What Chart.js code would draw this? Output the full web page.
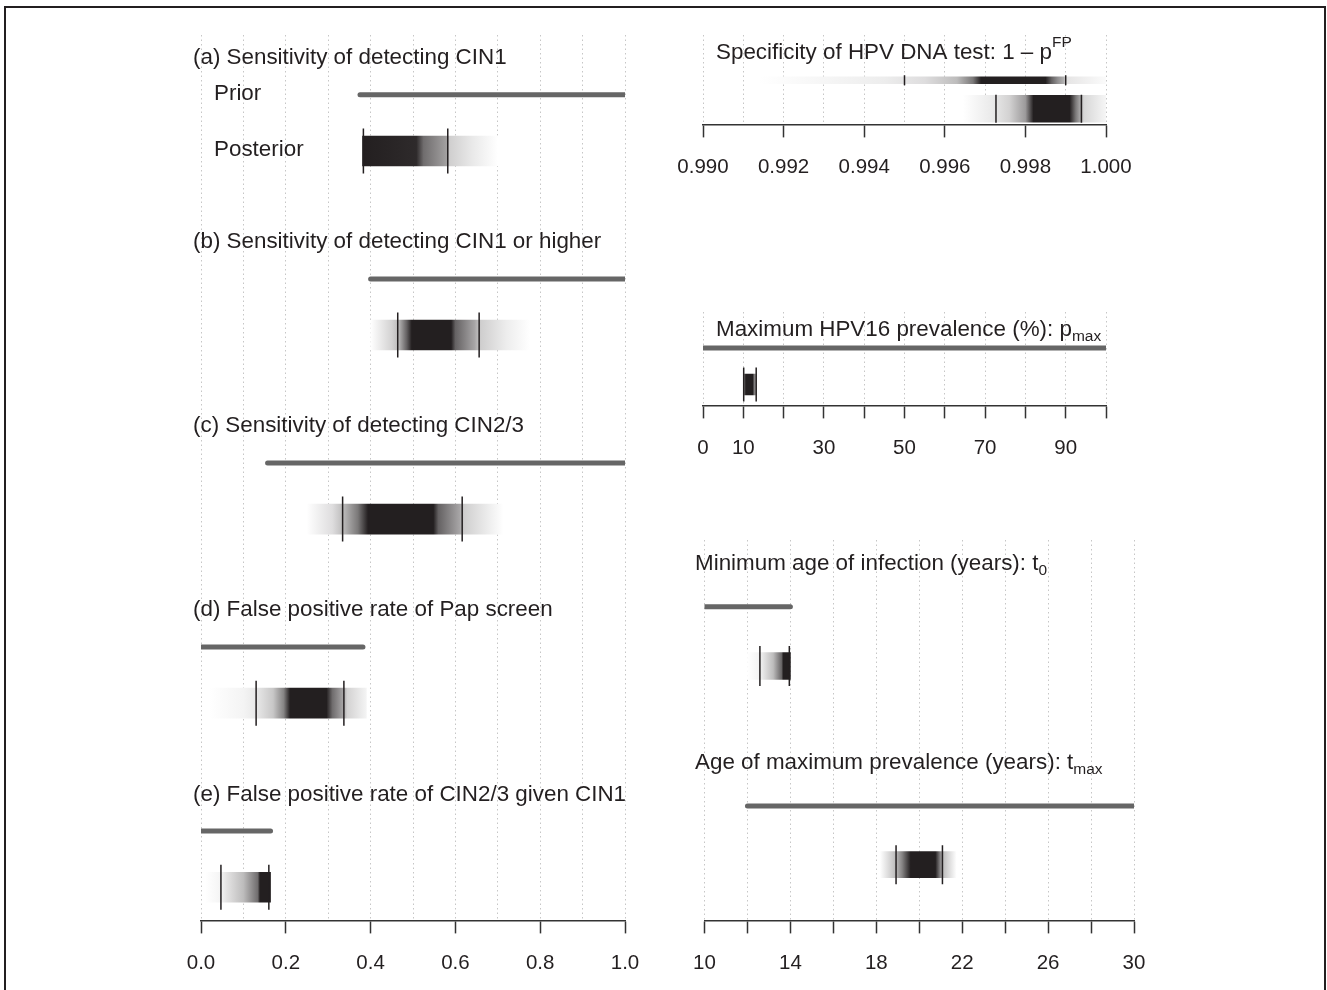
<!DOCTYPE html>
<html>
<head>
<meta charset="utf-8">
<title>Prior and posterior distributions</title>
<script src="https://cdn.jsdelivr.net/npm/chart.js@4.4.1/dist/chart.umd.min.js"></script>
<style>
  html, body { margin: 0; padding: 0; background: #fff; }
  #page { position: relative; width: 1327px; height: 990px; overflow: hidden; }
  #frame { position: absolute; left: 4px; top: 6px; width: 1318px; height: 1000px;
           border: 2.5px solid #231f20; border-bottom: none; }
  canvas { position: absolute; }
</style>
</head>
<body>
<div id="page">
  <div id="frame"></div>
  <canvas id="left" width="670" height="1010" style="left:0;top:0"></canvas>
  <canvas id="spec" width="520" height="220" style="left:640px;top:0"></canvas>
  <canvas id="pmax" width="520" height="300" style="left:640px;top:200px"></canvas>
  <canvas id="age" width="560" height="540" style="left:640px;top:470px"></canvas>
</div>
<script>
const FONT = '"Liberation Sans", Arial, sans-serif';
const INK = [35, 31, 32];

// ---- left column: parameters on 0..1 ----
const leftTitles = [
  '(a) Sensitivity of detecting CIN1',
  '(b) Sensitivity of detecting CIN1 or higher',
  '(c) Sensitivity of detecting CIN2/3',
  '(d) False positive rate of Pap screen',
  '(e) False positive rate of CIN2/3 given CIN1'
];
const leftPriorLow = [0.375, 0.40, 0.157, 0.0, 0.0];
const leftPriorHigh = [1.0, 1.0, 1.0, 0.382, 0.164];
const leftCredLow = [0.383, 0.464, 0.334, 0.130, 0.047];
const leftCredHigh = [0.582, 0.656, 0.616, 0.337, 0.160];
// posterior density shading: [value, darkness 0..1]
const leftShades = [
  [[0.381, 1], [0.508, 0.95], [0.525, 0.65], [0.58, 0.42], [0.585, 0.22], [0.64, 0.1], [0.70, 0]],
  [[0.40, 0], [0.45, 0.2], [0.465, 0.3], [0.485, 0.7], [0.497, 1], [0.59, 1], [0.60, 0.7], [0.645, 0.4], [0.66, 0.22], [0.72, 0.08], [0.776, 0]],
  [[0.249, 0], [0.31, 0.15], [0.335, 0.3], [0.37, 0.6], [0.394, 1], [0.548, 1], [0.56, 0.7], [0.61, 0.4], [0.62, 0.22], [0.67, 0.1], [0.713, 0]],
  [[0.02, 0], [0.10, 0.05], [0.13, 0.1], [0.17, 0.25], [0.195, 0.55], [0.21, 1], [0.296, 1], [0.31, 0.65], [0.335, 0.4], [0.345, 0.2], [0.39, 0.05]],
  [[0.01, 0], [0.047, 0.05], [0.06, 0.12], [0.10, 0.3], [0.134, 0.65], [0.139, 1], [0.164, 1]]
];
const leftGrid = [0, 0.1, 0.2, 0.3, 0.4, 0.5, 0.6, 0.7, 0.8, 0.9, 1.0];
const leftTicks = [0, 0.2, 0.4, 0.6, 0.8, 1.0];
const leftTickLabels = ['0.0', '0.2', '0.4', '0.6', '0.8', '1.0'];

// ---- specificity of HPV DNA test ----
const specTitle = ['Specificity of HPV DNA test: 1 \u2013 p', 'FP'];
const specPriorShade = [[0.9914, 0], [0.9945, 0.08], [0.9955, 0.15], [0.9963, 0.3], [0.9967, 0.6], [0.9969, 1], [0.9985, 1], [0.99865, 0.7], [0.9988, 0.5], [0.99895, 0.35], [0.9990, 0.12], [1.0, 0.02]];
const specPriorCred = [0.995, 0.999];
const specPostShade = [[0.99645, 0], [0.9972, 0.1], [0.9976, 0.2], [0.998, 0.45], [0.9982, 1], [0.9991, 1], [0.99925, 0.6], [0.99938, 0.35], [0.99945, 0.18], [1.0, 0.04]];
const specPostCred = [0.99727, 0.99939];
const specGrid = [0.990, 0.991, 0.992, 0.993, 0.994, 0.995, 0.996, 0.997, 0.998, 0.999, 1.000];
const specTicks = [0.990, 0.992, 0.994, 0.996, 0.998, 1.000];
const specTickLabels = ['0.990', '0.992', '0.994', '0.996', '0.998', '1.000'];

// ---- maximum HPV16 prevalence ----
const pmaxTitle = ['Maximum HPV16 prevalence (%): p', 'max'];
const pmaxPrior = [0, 100];
const pmaxShade = [[10.0, 0.3], [10.6, 1], [12.3, 1], [12.8, 0.55], [13.3, 0.3]];
const pmaxCred = [10.1, 13.2];
const pmaxGrid = [0, 10, 20, 30, 40, 50, 60, 70, 80, 90, 100];
const pmaxTicks = [0, 10, 20, 30, 40, 50, 60, 70, 80, 90, 100];
const pmaxLabelValues = [0, 10, 30, 50, 70, 90];
const pmaxTickLabels = ['0', '10', '30', '50', '70', '90'];

// ---- ages (years) ----
const t0Title = ['Minimum age of infection (years): t', '0'];
const t0Prior = [10, 14];
const t0Shade = [[12.0, 0], [12.5, 0.05], [12.7, 0.1], [13.2, 0.3], [13.6, 0.7], [13.66, 1], [14.0, 1]];
const t0Cred = [12.58, 13.95];
const tmaxTitle = ['Age of maximum prevalence (years): t', 'max'];
const tmaxPrior = [12, 30];
const tmaxShade = [[18.17, 0], [18.9, 0.3], [19.2, 0.55], [19.6, 1], [20.75, 1], [21.0, 0.5], [21.1, 0.3], [21.74, 0]];
const tmaxCred = [18.92, 21.08];
const ageGrid = [10, 12, 14, 16, 18, 20, 22, 24, 26, 28, 30];
const ageTicks = [10, 12, 14, 16, 18, 20, 22, 24, 26, 28, 30];
const ageLabelValues = [10, 14, 18, 22, 26, 30];
const ageTickLabels = ['10', '14', '18', '22', '26', '30'];

function shadeColor(d) {
  const c = INK.map(v => Math.round(255 - d * (255 - v)));
  return `rgb(${c[0]},${c[1]},${c[2]})`;
}

function shadeGradient(chart, stops) {
  const xs = chart.scales.x;
  if (!xs || !chart.chartArea) return shadeColor(0.5);
  const x0 = xs.getPixelForValue(stops[0][0]);
  const x1 = xs.getPixelForValue(stops[stops.length - 1][0]);
  if (!isFinite(x0) || !isFinite(x1) || x1 === x0) return shadeColor(0.5);
  const g = chart.ctx.createLinearGradient(x0, 0, x1, 0);
  stops.forEach(([v, d]) => {
    const f = (xs.getPixelForValue(v) - x0) / (x1 - x0);
    g.addColorStop(Math.min(1, Math.max(0, f)), shadeColor(d));
  });
  return g;
}

const near = (a, b) => Math.abs(a - b) < 1e-9;

// draws the panel headings (with sub / superscripts) at rows of the y scale
const panelText = {
  id: 'panelText',
  afterDraw(chart, args, opts) {
    const { ctx, chartArea, scales } = chart;
    ctx.save();
    ctx.fillStyle = '#231f20';
    ctx.textBaseline = 'middle';
    ctx.textAlign = 'left';
    opts.items.forEach(item => {
      let x = chartArea.left + item.dx;
      const y = scales.y.getPixelForValue(item.y) + 1;
      item.parts.forEach(part => {
        const small = part.sub || part.sup;
        ctx.font = `${small ? 15.5 : 22.4}px ${FONT}`;
        const dy = part.sub ? 7 : part.sup ? -10 : 0;
        ctx.fillText(part.t, x, y + dy);
        x += ctx.measureText(part.t).width;
      });
    });
    ctx.restore();
  }
};

function makePanel(canvasId, cfg) {
  const datasets = [];
  cfg.marks.forEach(m => datasets.push({
    type: 'scatter', order: 0,
    data: m.values.map(x => ({ x: x, y: m.y })),
    pointStyle: 'line', pointRotation: 90,
    pointRadius: m.half, pointHoverRadius: m.half,
    pointBorderColor: '#231f20', pointBorderWidth: 1.5
  }));
  cfg.shades.forEach(s => datasets.push({
    type: 'bar', order: 1, indexAxis: 'y', grouped: false,
    data: [{ x: [s.stops[0][0], s.stops[s.stops.length - 1][0]], y: s.y }],
    barThickness: s.thick, borderWidth: 0,
    backgroundColor: c => shadeGradient(c.chart, s.stops)
  }));
  cfg.priors.forEach(pr => datasets.push({
    type: 'line', order: 2,
    data: pr.range.map(x => ({ x: x, y: pr.y })),
    borderColor: '#666666', borderWidth: 5, borderCapStyle: 'round',
    pointRadius: 0, fill: false
  }));

  return new Chart(document.getElementById(canvasId), {
    type: 'bar',
    data: { datasets },
    plugins: [panelText],
    options: {
      responsive: false,
      animation: false,
      events: [],
      layout: { padding: cfg.padding },
      plugins: {
        legend: { display: false },
        tooltip: { enabled: false },
        panelText: { items: cfg.texts }
      },
      scales: {
        x: {
          type: 'linear', min: cfg.min, max: cfg.max, offset: false,
          afterBuildTicks: s => { s.ticks = cfg.grid.map(value => ({ value })); },
          grid: {
            color: '#c6c6c6', lineWidth: 1, offset: false,
            drawTicks: true, tickLength: 13, tickWidth: 1.5,
            tickColor: c => (c.tick && cfg.ticks.some(t => near(t, c.tick.value))) ? '#333333' : 'rgba(0,0,0,0)'
          },
          border: { display: true, color: '#333333', width: 1.5, dash: [1.5, 3] },
          ticks: {
            autoSkip: false, maxRotation: 0, padding: 18,
            color: '#231f20', font: { family: FONT, size: 20.5 },
            callback: v => {
              const i = cfg.labelValues.findIndex(t => near(t, v));
              return i >= 0 ? cfg.labels[i] : '';
            }
          }
        },
        y: { type: 'linear', display: false, reverse: true, min: cfg.ymin, max: cfg.ymax, offset: false }
      }
    }
  });
}

// left column: block k has heading at y=k, prior at k+0.205, posterior at k+0.51
makePanel('left', {
  min: 0, max: 1, ymin: -0.12, ymax: 4.69,
  padding: { left: 201, right: 45, top: 35, bottom: 16 },
  grid: leftGrid, ticks: leftTicks, labelValues: leftTicks, labels: leftTickLabels,
  priors: leftTitles.map((t, k) => ({ range: [leftPriorLow[k], leftPriorHigh[k]], y: k + 0.205 })),
  shades: leftShades.map((s, k) => ({ stops: s, y: k + 0.51, thick: 30 })),
  marks: leftTitles.map((t, k) => ({ values: [leftCredLow[k], leftCredHigh[k]], y: k + 0.51, half: 22.5 })),
  texts: leftTitles.map((t, k) => ({ parts: [{ t: t }], y: k, dx: -8 })).concat([
    { parts: [{ t: 'Prior' }], y: 0.195, dx: 13 },
    { parts: [{ t: 'Posterior' }], y: 0.5, dx: 13 }
  ])
});

makePanel('spec', {
  min: 0.990, max: 1.000, ymin: -0.59, ymax: 2.55,
  padding: { left: 63, right: 54, top: 35, bottom: 22 },
  grid: specGrid, ticks: specTicks, labelValues: specTicks, labels: specTickLabels,
  priors: [],
  shades: [
    { stops: specPriorShade, y: 1, thick: 7 },
    { stops: specPostShade, y: 2, thick: 27 }
  ],
  marks: [
    { values: specPriorCred, y: 1, half: 5 },
    { values: specPostCred, y: 2, half: 14 }
  ],
  texts: [{ parts: [{ t: specTitle[0] }, { t: specTitle[1], sup: true }], y: 0, dx: 13 }]
});

makePanel('pmax', {
  min: 0, max: 100, ymin: -0.85, ymax: 3.95,
  padding: { left: 63, right: 54, top: 112, bottom: 21 },
  grid: pmaxGrid, ticks: pmaxTicks, labelValues: pmaxLabelValues, labels: pmaxTickLabels,
  priors: [{ range: pmaxPrior, y: 1 }],
  shades: [{ stops: pmaxShade, y: 2.875, thick: 21 }],
  marks: [{ values: pmaxCred, y: 2.875, half: 17 }],
  texts: [{ parts: [{ t: pmaxTitle[0] }, { t: pmaxTitle[1], sub: true }], y: 0, dx: 13 }]
});

makePanel('age', {
  min: 10, max: 30, ymin: -0.115, ymax: 1.795,
  padding: { left: 64.5, right: 66, top: 70, bottom: 16 },
  grid: ageGrid, ticks: ageTicks, labelValues: ageLabelValues, labels: ageTickLabels,
  priors: [{ range: t0Prior, y: 0.22 }, { range: tmaxPrior, y: 1.22 }],
  shades: [
    { stops: t0Shade, y: 0.5175, thick: 27 },
    { stops: tmaxShade, y: 1.515, thick: 26 }
  ],
  marks: [
    { values: t0Cred, y: 0.5175, half: 20 },
    { values: tmaxCred, y: 1.515, half: 19.5 }
  ],
  texts: [
    { parts: [{ t: t0Title[0] }, { t: t0Title[1], sub: true }], y: 0, dx: -9.5 },
    { parts: [{ t: tmaxTitle[0] }, { t: tmaxTitle[1], sub: true }], y: 1, dx: -9.5 }
  ]
});
</script>
</body>
</html>
